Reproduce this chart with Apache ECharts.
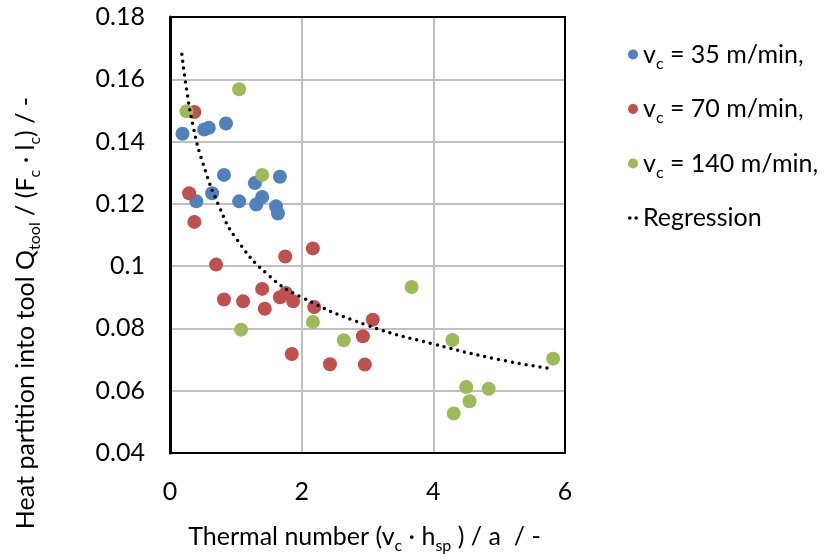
<!DOCTYPE html>
<html>
<head>
<meta charset="utf-8">
<script src="https://cdn.jsdelivr.net/npm/echarts@6/dist/echarts.min.js"></script>
<style>
html, body { margin: 0; padding: 0; background: #fff; }
#main { width: 832px; height: 560px; }
</style>
</head>
<body>
<div id="main"></div>
<script>
// points: [thermal number, heat partition]
var vc35 = [
    [0.19, 0.1425], [0.40, 0.1208], [0.52, 0.1439], [0.59, 0.1444], [0.64, 0.1234],
    [0.82, 0.1293], [0.85, 0.1458], [1.05, 0.1208], [1.29, 0.1267], [1.31, 0.1198],
    [1.40, 0.1222], [1.61, 0.1192], [1.64, 0.1169], [1.67, 0.1287]
];
var vc70 = [
    [0.29, 0.1234], [0.37, 0.1495], [0.37, 0.1142], [0.70, 0.1005], [0.82, 0.0893],
    [1.11, 0.0887], [1.40, 0.0927], [1.44, 0.0863], [1.67, 0.0900], [1.75, 0.1031],
    [1.76, 0.0914], [1.85, 0.0718], [1.87, 0.0887], [2.17, 0.1057], [2.19, 0.0869],
    [2.43, 0.0685], [2.93, 0.0775], [2.96, 0.0684], [3.08, 0.0828]
];
var vc140 = [
    [0.25, 0.1497], [1.05, 0.1568], [1.08, 0.0796], [1.40, 0.1293], [2.17, 0.0821],
    [2.64, 0.0762], [3.67, 0.0933], [4.29, 0.0763], [4.31, 0.0527], [4.50, 0.0612],
    [4.55, 0.0566], [4.84, 0.0606], [5.82, 0.0703]
];
// regression curve, read at a few x positions
var regression = [
    [0.18, 0.168], [0.25, 0.157], [0.35, 0.145], [0.5, 0.133], [0.75, 0.119],
    [1, 0.109], [1.5, 0.097], [2, 0.090], [3, 0.081], [4, 0.075], [5, 0.070], [5.82, 0.067]
];
var legendNames = {
    vc35: '{n|v}{s|c}{n| = 35 m/min,}',
    vc70: '{n|v}{s|c}{n| = 70 m/min,}',
    vc140: '{n|v}{s|c}{n| = 140 m/min,}',
    reg: '{n|Regression}'
};

var font = 'Lato';
var rich = {
    n: { fontFamily: font, fontSize: 25, lineHeight: 34, color: '#000' },
    s: { fontFamily: font, fontSize: 16, lineHeight: 16, verticalAlign: 'bottom', color: '#000' }
};

var myChart = echarts.init(document.getElementById('main'));
var option = {
    animation: false,
    grid: { left: 170, right: 267, top: 17, bottom: 107 },
    legend: {
        orient: 'vertical',
        left: 623,
        top: 37,
        itemWidth: 10,
        itemHeight: 10,
        itemGap: 25,
        data: [
            { name: 'vc35', icon: 'circle' },
            { name: 'vc70', icon: 'circle' },
            { name: 'vc140', icon: 'circle' },
            { name: 'reg', icon: 'path://M0,2a2,2 0 1,0 4,0a2,2 0 1,0 -4,0M7,2a2,2 0 1,0 4,0a2,2 0 1,0 -4,0' }
        ],
        formatter: function (name) { return legendNames[name]; },
        textStyle: { rich: rich }
    },
    xAxis: {
        type: 'value',
        min: 0, max: 6, interval: 2,
        name: '{n|Thermal number (v}{s|c}{n| · h}{s|sp}{n| ) / a  / -}',
        nameLocation: 'middle',
        nameGap: 67,
        nameTextStyle: { rich: rich, padding: [0, 6, 0, 0] },
        axisLine: { show: true, lineStyle: { color: '#000', width: 2 } },
        axisTick: { show: false },
        axisLabel: { fontFamily: font, fontSize: 25, color: '#000', margin: 26 },
        splitLine: { show: true, showMinLine: false, showMaxLine: false, lineStyle: { color: '#c0c0c0', width: 2 } }
    },
    yAxis: {
        type: 'value',
        min: 0.04, max: 0.18, interval: 0.02,
        axisLine: { show: true, lineStyle: { color: '#000', width: 3 } },
        axisTick: { show: false },
        axisLabel: {
            fontFamily: font, fontSize: 25, color: '#000', margin: 25,
            formatter: function (v) { return String(+v.toFixed(2)); }
        },
        splitLine: { show: true, showMinLine: false, showMaxLine: false, lineStyle: { color: '#c0c0c0', width: 2 } }
    },
    graphic: [
        {
            // top and right frame lines
            type: 'polyline',
            shape: { points: [[170, 17], [565, 17], [565, 453]] },
            style: { stroke: '#000', lineWidth: 2, fill: null },
            z: 10
        },
        {
            type: 'text',
            x: 26, y: 313,
            rotation: Math.PI / 2,
            style: {
                text: '{n|Heat partition into tool Q}{s|tool}{n| / (F}{s|c}{n| · l}{s|c}{n|) / -}',
                rich: rich,
                align: 'center',
                verticalAlign: 'middle'
            }
        }
    ],
    series: [
        { name: 'vc35', type: 'scatter', data: vc35, symbolSize: 14, itemStyle: { color: '#4F81BD', opacity: 1 } },
        { name: 'vc70', type: 'scatter', data: vc70, symbolSize: 14, itemStyle: { color: '#C0504D', opacity: 1 } },
        { name: 'vc140', type: 'scatter', data: vc140, symbolSize: 14, itemStyle: { color: '#9BBB59', opacity: 1 } },
        {
            name: 'reg', type: 'line', data: regression, smooth: true, showSymbol: false, z: 5,
            itemStyle: { color: '#000' },
            lineStyle: { color: '#000', width: 3.5, type: [0, 7], cap: 'round' }
        }
    ]
};
myChart.setOption(option);
</script>
</body>
</html>
